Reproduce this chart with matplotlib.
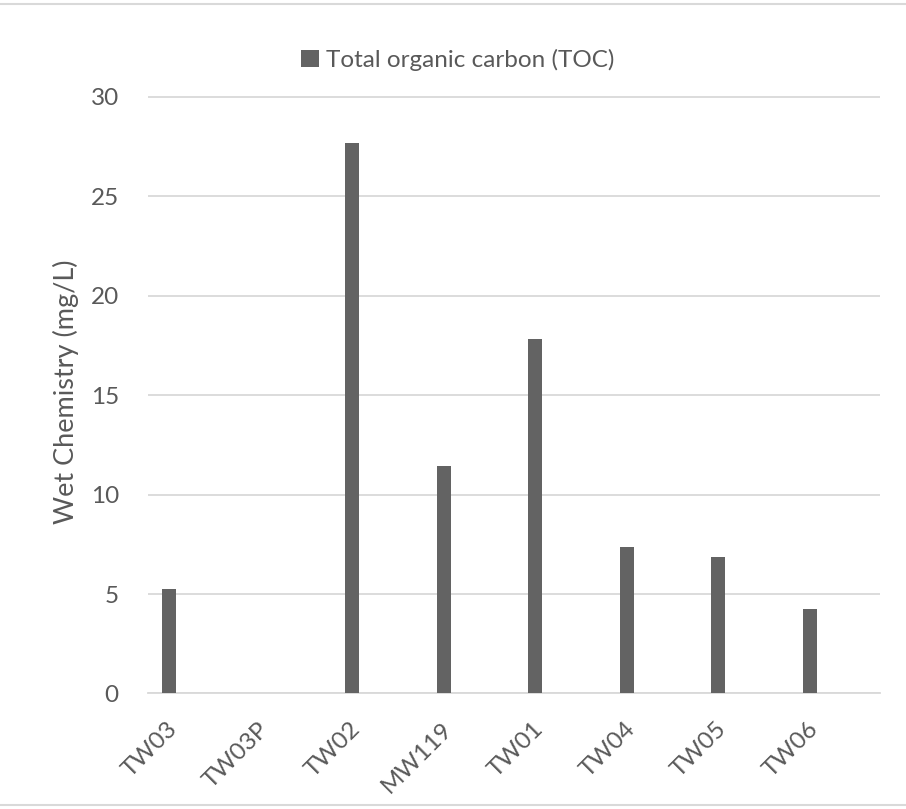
#!/usr/bin/env python3
"""Total organic carbon (TOC) per well, Excel-style single-series column chart."""
import matplotlib
matplotlib.use("Agg")
import matplotlib.pyplot as plt
import matplotlib.transforms as mtransforms
from matplotlib.lines import Line2D

WELLS = ["TW03", "TW03P", "TW02", "MW119", "TW01", "TW04", "TW05", "TW06"]
TOC_MG_L = [5.26, 0.0, 27.7, 11.44, 17.85, 7.36, 6.86, 4.25]
Y_TICKS = [0, 5, 10, 15, 20, 25, 30]

BAR_COLOR = "#636363"
GRID_COLOR = "#d9d9d9"
TEXT_COLOR = "#595959"
FS = 17.5
BAR_SHIFT = -0.267  # excel clustered slot: bar sits left of the category centre

plt.rcParams["font.family"] = ["Lato", "DejaVu Sans"]

fig = plt.figure(figsize=(9.06, 8.09), dpi=100)
ax = fig.add_axes([0.1634, 0.1428, 0.8079, 0.7447])

x = list(range(len(WELLS)))
ax.bar([i + BAR_SHIFT for i in x], TOC_MG_L, width=0.153, color=BAR_COLOR, zorder=3,
       label="Total organic carbon (TOC)")

ax.set_xlim(-0.5, len(WELLS) - 0.5)
ax.set_ylim(0, 30.3)
ax.set_yticks(Y_TICKS)
ax.set_xticks(x)
ax.set_xticklabels(WELLS, rotation=45, ha="right", va="top", rotation_mode="anchor")
ax.yaxis.grid(True, color=GRID_COLOR, lw=1.3, zorder=0)
ax.tick_params(length=0, labelsize=FS, colors=TEXT_COLOR)
ax.tick_params(axis="y", pad=21)
ax.tick_params(axis="x", pad=0)
offset = mtransforms.ScaledTranslation(-0.27, -0.25, fig.dpi_scale_trans)
for lbl in ax.get_xticklabels():
    lbl.set_transform(lbl.get_transform() + offset)
for side in ("top", "right", "left"):
    ax.spines[side].set_visible(False)
ax.spines["bottom"].set_color(GRID_COLOR)
ax.spines["bottom"].set_linewidth(1.3)
ax.set_ylabel("Wet Chemistry (mg/L)", fontsize=19.5, color=TEXT_COLOR)
ax.yaxis.set_label_coords(-0.094, 0.5)

fig.legend(loc="center", bbox_to_anchor=(0.505, 1 - 60 / 809), frameon=False,
           fontsize=FS, labelcolor=TEXT_COLOR, handlelength=0.75, handleheight=0.75,
           handletextpad=0.3)

# thin outer chart border lines (top and bottom)
for yf in (1 - 4 / 809, 4 / 809):
    fig.add_artist(Line2D([0, 1], [yf, yf], transform=fig.transFigure,
                          color=GRID_COLOR, lw=1.5))

fig.savefig("out.png", dpi=100)
